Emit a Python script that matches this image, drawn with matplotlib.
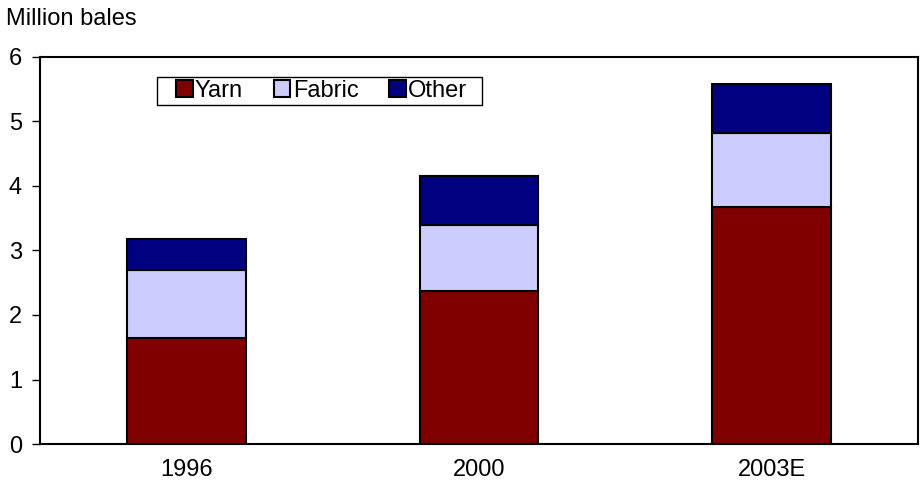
import matplotlib.pyplot as plt
from matplotlib.patches import Rectangle
import numpy as np

plt.rcParams['font.family'] = ['Liberation Sans', 'DejaVu Sans']

years = ["1996", "2000", "2003E"]
yarn = [1.64, 2.37, 3.68]
fabric = [1.06, 1.03, 1.14]
other = [0.48, 0.76, 0.76]

fig = plt.figure(figsize=(9.23, 4.95), dpi=100)
ax = fig.add_axes([0.0433, 0.103, 0.9513, 0.782])

x = np.arange(len(years))
w = 0.405
edge = dict(edgecolor="black", linewidth=1.5)
ax.bar(x, yarn, w, color="#800000", label="Yarn", **edge)
ax.bar(x, fabric, w, bottom=yarn, color="#ccccff", label="Fabric", **edge)
bottom2 = np.array(yarn) + np.array(fabric)
ax.bar(x, other, w, bottom=bottom2, color="#000080", label="Other", **edge)

ax.set_xlim(-0.5, 2.5)
ax.set_ylim(0, 6)
ax.set_yticks(range(0, 7))
ax.set_xticks(x)
ax.set_xticklabels(years)
ax.tick_params(axis="y", labelsize=17, length=6, width=1, pad=7)
ax.tick_params(axis="x", labelsize=17, length=0, pad=11)
for s in ax.spines.values():
    s.set_linewidth(1.5)

fig.text(0.007, 0.962, "Million bales", fontsize=17, ha="left", va="center")

# legend box drawn separately so it can be wider than the entries
ax.add_patch(Rectangle((0.1333, 0.876), 0.370, 0.072, transform=ax.transAxes,
                       facecolor="white", edgecolor="black", linewidth=1.0,
                       zorder=4))
leg = ax.legend(loc="center left", bbox_to_anchor=(0.155, 0.912), ncol=3,
                fontsize=17, frameon=False, handlelength=0.7, handleheight=0.7,
                handletextpad=0.1, columnspacing=1.3, borderpad=0,
                borderaxespad=0)
leg.set_zorder(5)

fig.savefig("out.png", dpi=100, facecolor="white")
